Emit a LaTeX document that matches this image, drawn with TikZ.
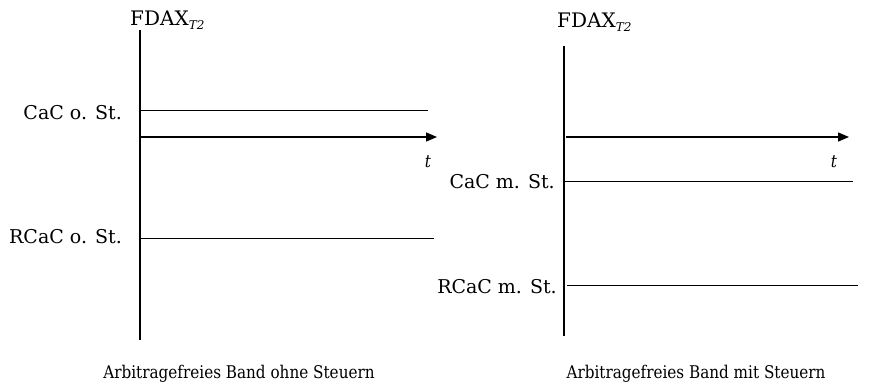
\documentclass[tikz,border=0pt]{standalone}
\usepackage{fontspec}
\setmainfont{DejaVu Serif}
\newfontfamily\schmal[FakeStretch=0.87]{DejaVu Serif}
\usepackage{tikz}
\usetikzlibrary{arrows.meta}
\tikzset{
  band/.style={line width=0.9pt},
  achse/.style={line width=1.1pt},
  zeit/.style={line width=1.3pt,-{Triangle[length=11pt,width=9pt]}},
  lbl/.style={anchor=base east,inner sep=0pt,font=\fontsize{19}{21}\selectfont},
  txt/.style={inner sep=0pt,font=\schmal\fontsize{17.5}{20}\selectfont},
  kopf/.style={anchor=base west,inner sep=0pt,font=\fontsize{20}{22}\selectfont}
}
\newcommand{\fdax}{FDAX\raisebox{-0.4ex}{\fontsize{12}{12}\selectfont\itshape T2}}

\begin{document}
\begin{tikzpicture}[x=1pt,y=-1pt]
 	\useasboundingbox (0,0) rectangle (873,383);
 	% links: ohne Steuern
 	\coordinate (L0) at (140,30);  \coordinate (L1) at (140,340);
 	\draw[achse] (L0) -- (L1);
 	\node[kopf] (FL) at (130,25) {\fdax};
 	\coordinate (CLa) at (140,110); \coordinate (CLb) at (428,110);
 	\coordinate (TLa) at (140,137); \coordinate (TLb) at (437,137);
 	\coordinate (RLa) at (140,238); \coordinate (RLb) at (434,238);
 	\draw[band] (CLa) -- (CLb);
 	\draw[zeit] (TLa) -- (TLb);
 	\draw[band] (RLa) -- (RLb);
 	\node[lbl] (cl) at (122,119) {CaC o. St.};
 	\node[lbl] (rl) at (122,243) {RCaC o. St.};
 	\node[txt,anchor=base] (tl) at (428,167) {\itshape t};
 	\node[txt,anchor=base] (bl) at (239,378) {Arbitragefreies Band ohne Steuern};
 	% rechts: mit Steuern
 	\coordinate (R0) at (564,46);  \coordinate (R1) at (564,336);
 	\draw[achse] (R0) -- (R1);
 	\node[kopf] (FR) at (557,27) {\fdax};
 	\coordinate (TRa) at (566,137); \coordinate (TRb) at (849,137);
 	\coordinate (CRa) at (565,181); \coordinate (CRb) at (853,181);
 	\coordinate (RRa) at (567,285); \coordinate (RRb) at (858,285);
 	\draw[zeit] (TRa) -- (TRb);
 	\draw[band] (CRa) -- (CRb);
 	\draw[band] (RRa) -- (RRb);
 	\node[lbl] (cr) at (555,188) {CaC m. St.};
 	\node[lbl] (rr) at (557,293) {RCaC m. St.};
 	\node[txt,anchor=base] (tr) at (834,167) {\itshape t};
 	\node[txt,anchor=base] (br) at (696,378) {Arbitragefreies Band mit Steuern};
\end{tikzpicture}
\end{document}
